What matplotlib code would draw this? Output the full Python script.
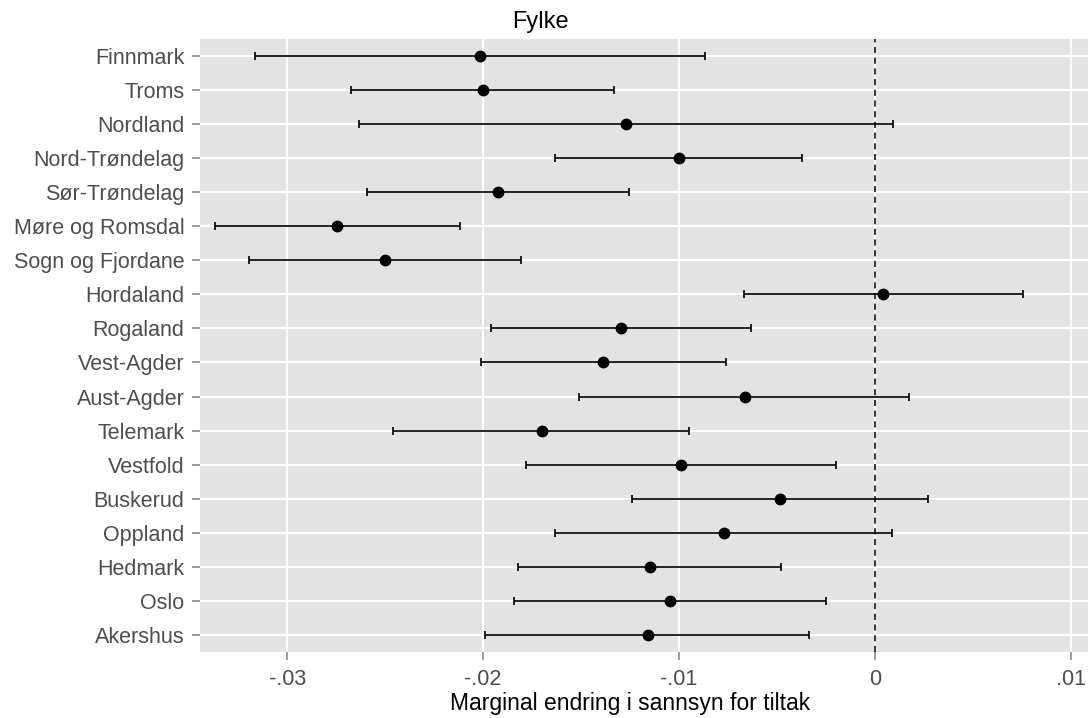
import numpy as np
import matplotlib
matplotlib.use("Agg")
import matplotlib.pyplot as plt

plt.rcParams['font.family'] = ['Liberation Sans', 'DejaVu Sans']

# fylke, ovanfrå og ned
fylke = ['Finnmark', 'Troms', 'Nordland', 'Nord-Trøndelag', 'Sør-Trøndelag',
         'Møre og Romsdal', 'Sogn og Fjordane', 'Hordaland', 'Rogaland',
         'Vest-Agder', 'Aust-Agder', 'Telemark', 'Vestfold', 'Buskerud',
         'Oppland', 'Hedmark', 'Oslo', 'Akershus']
estimat = [-0.02014, -0.02002, -0.01270, -0.01001, -0.01923, -0.02744, -0.02502,
           0.00042, -0.01297, -0.01386, -0.00666, -0.01701, -0.00992, -0.00487,
           -0.00771, -0.01150, -0.01047, -0.01160]
nedre = [-0.03163, -0.02674, -0.02634, -0.01631, -0.02593, -0.03369, -0.03197,
         -0.00669, -0.01961, -0.02011, -0.01511, -0.02460, -0.01782, -0.01242,
         -0.01631, -0.01823, -0.01843, -0.01988]
ovre = [-0.00868, -0.01334, 0.00090, -0.00374, -0.01253, -0.02118, -0.01809,
        0.00753, -0.00632, -0.00759, 0.00176, -0.00947, -0.00200, 0.00273,
        0.00088, -0.00480, -0.00250, -0.00336]

xticks = [-0.03, -0.02, -0.01, 0, 0.01]
xticklabels = ['-.03', '-.02', '-.01', '0', '.01']

est = np.array(estimat)
lo = np.array(nedre)
hi = np.array(ovre)
y = np.arange(len(fylke), 0, -1)

fig = plt.figure(figsize=(10.92, 7.18), dpi=100)
ax = fig.add_axes([0.183, 0.092, 0.8133, 0.8537])
ax.set_facecolor('#E3E3E3')
for s in ax.spines.values():
    s.set_visible(False)
ax.grid(True, color='white', linewidth=1.4)
ax.set_axisbelow(True)

ax.axvline(0, color='black', linestyle=(0, (4, 3)), linewidth=1.1, zorder=2)
ax.errorbar(est, y, xerr=[est - lo, hi - est], fmt='o', color='black',
            ecolor='black', elinewidth=1.2, capsize=2.8, capthick=1.2,
            markersize=7.5, zorder=3)

ax.set_yticks(y)
ax.set_yticklabels(fylke)
ax.set_xticks(xticks)
ax.set_xticklabels(xticklabels)
ax.set_xlim(-0.03446, 0.01087)
ax.set_ylim(0.5, len(fylke) + 0.5)
ax.tick_params(axis='both', colors='#7F7F7F', labelcolor='#4D4D4D',
               labelsize=15.5, length=6, width=1.1)
ax.tick_params(axis='y', pad=5)
ax.tick_params(axis='x', pad=6)

ax.set_xlabel('Marginal endring i sannsyn for tiltak', fontsize=16.5,
              color='black')
ax.xaxis.set_label_coords(0.484, -0.066, transform=ax.transAxes)
ax.xaxis.label.set_va('top')
fig.text(0.4945, 0.970, 'Fylke', ha='center', va='center', fontsize=17,
         color='black')

fig.savefig('out.png', dpi=100)
